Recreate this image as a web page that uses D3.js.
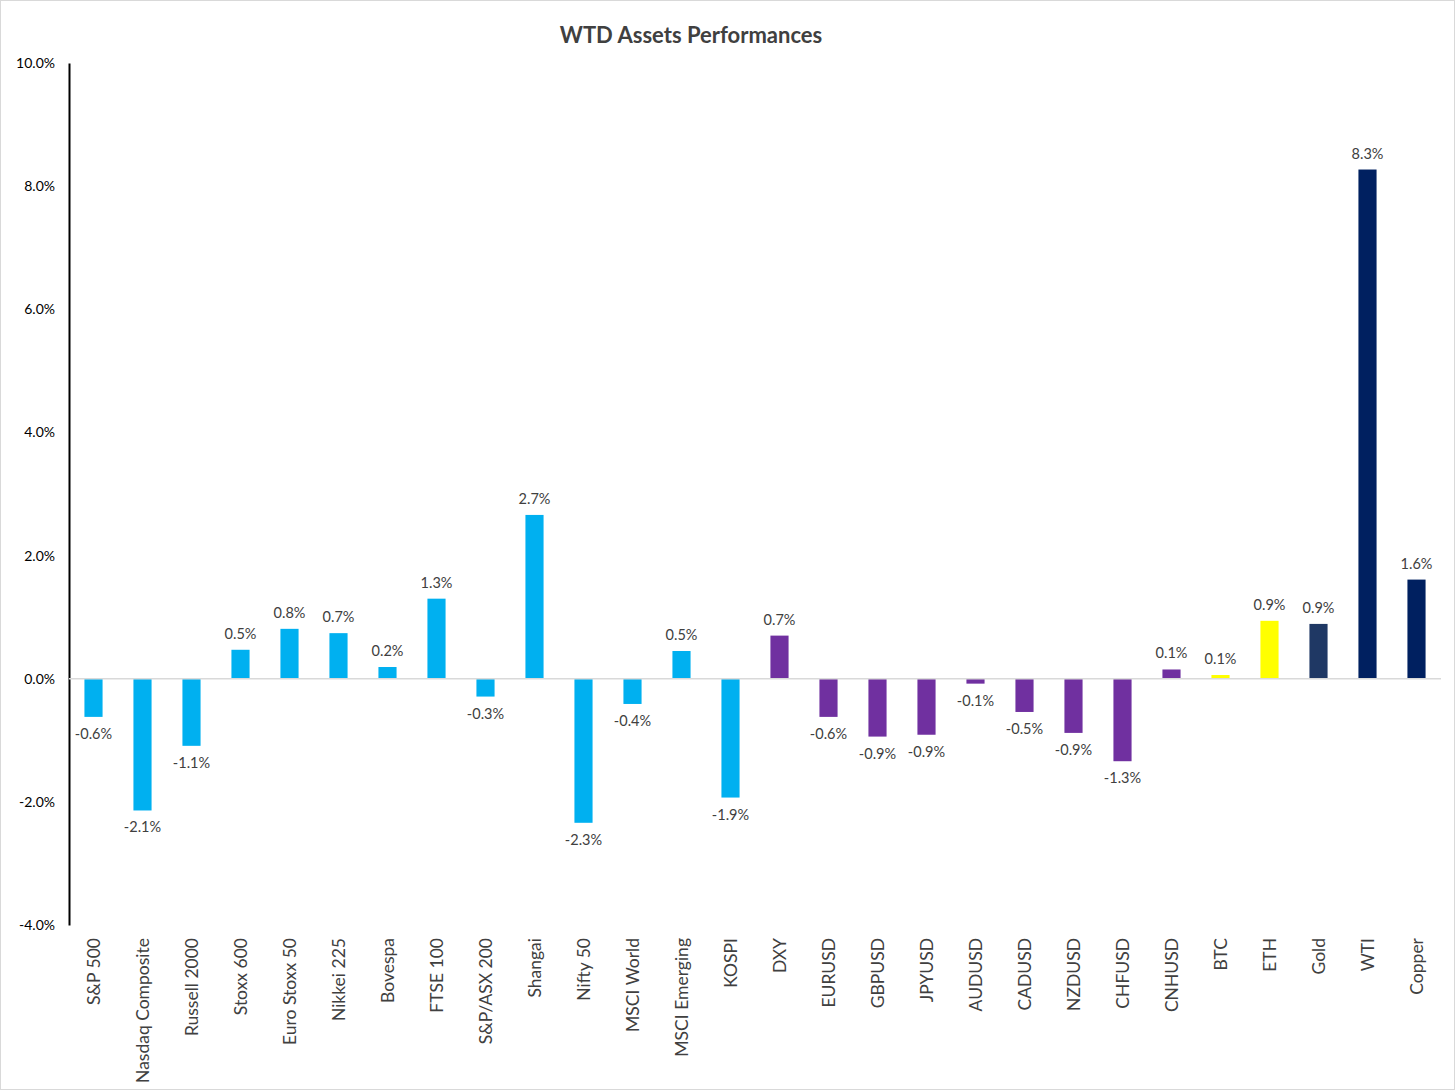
<!DOCTYPE html>
<html><head><meta charset="utf-8">
<script src="https://cdn.jsdelivr.net/npm/d3@7"></script>
<style>body{margin:0;background:#fff}svg{display:block}</style>
</head><body>
<svg id="c" width="1456" height="1091"></svg>
<script>
const categories = ["S&P 500","Nasdaq Composite","Russell 2000","Stoxx 600","Euro Stoxx 50","Nikkei 225","Bovespa","FTSE 100","S&P/ASX 200","Shangai","Nifty 50","MSCI World","MSCI Emerging","KOSPI","DXY","EURUSD","GBPUSD","JPYUSD","AUDUSD","CADUSD","NZDUSD","CHFUSD","CNHUSD","BTC","ETH","Gold","WTI","Copper"];
const values = [-0.62,-2.14,-1.09,0.47,0.81,0.74,0.19,1.30,-0.29,2.66,-2.34,-0.41,0.45,-1.93,0.70,-0.62,-0.94,-0.91,-0.08,-0.54,-0.88,-1.34,0.15,0.06,0.94,0.89,8.27,1.61];
const groups = ["eq","eq","eq","eq","eq","eq","eq","eq","eq","eq","eq","eq","eq","eq","fx","fx","fx","fx","fx","fx","fx","fx","fx","cr","cr","gold","cmd","cmd"];
const yTicks = [-4,-2,0,2,4,6,8,10];
const colors = {eq:"#00B0F0", fx:"#7030A0", cr:"#FFFF00", gold:"#1F3864", cmd:"#002060"};

const font = "Lato, 'Open Sans', sans-serif";
const svg = d3.select("#c");
svg.append("rect").attr("x",0.5).attr("y",0.5).attr("width",1454).attr("height",1089)
  .attr("fill","#fff").attr("stroke","#d9d9d9");

const x = d3.scaleBand().domain(categories).range([69,1441]).paddingInner(0.63).paddingOuter(0.315);
const y = d3.scaleLinear().domain([-4,10]).range([925,63]);

svg.append("text").attr("x",691).attr("y",43).attr("text-anchor","middle")
  .style("font-family",font).style("font-size","22px").style("font-weight","bold").attr("fill","#404040")
  .text("WTD Assets Performances");

// y axis
const ya = svg.append("g").attr("transform","translate(69,0)")
  .call(d3.axisLeft(y).tickValues(yTicks).tickSize(0).tickPadding(14).tickFormat(d=>d.toFixed(1)+"%"));
ya.select(".domain").attr("stroke","#000").attr("stroke-width",2);
ya.selectAll("text").style("font-family",font).style("font-size","14px").attr("fill","#000");

// bars
svg.append("g").selectAll("rect").data(categories).join("rect")
  .attr("x",d=>x(d)).attr("width",x.bandwidth())
  .attr("y",(d,i)=>y(Math.max(0,values[i])))
  .attr("height",(d,i)=>Math.abs(y(values[i])-y(0)))
  .attr("fill",(d,i)=>colors[groups[i]]);

// zero line
svg.append("line").attr("x1",69).attr("x2",1441).attr("y1",y(0)).attr("y2",y(0))
  .attr("stroke","#d9d9d9").attr("stroke-width",1.5);

// value labels
svg.append("g").selectAll("text").data(categories).join("text")
  .attr("x",d=>x(d)+x.bandwidth()/2)
  .attr("y",(d,i)=>values[i]>=0 ? y(values[i])-11 : y(values[i])+22)
  .attr("text-anchor","middle")
  .style("font-family",font).style("font-size","14.5px").attr("fill","#404040")
  .text((d,i)=>values[i].toFixed(1)+"%");

// category labels
svg.append("g").selectAll("text").data(categories).join("text")
  .attr("transform",d=>`translate(${x(d)+x.bandwidth()/2+6},938) rotate(-90)`)
  .attr("text-anchor","end")
  .style("font-family",font).style("font-size","17.5px").attr("fill","#404040")
  .text(d=>d);
</script>
</body></html>
